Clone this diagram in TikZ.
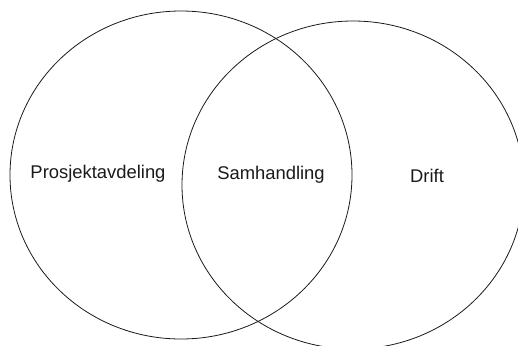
\documentclass[tikz,border=0pt]{standalone}
\usepackage{fontspec}
\setmainfont{Liberation Sans}
\usetikzlibrary{shapes.geometric}
\definecolor{ink}{HTML}{1A1A1A}
\tikzset{
  setring/.style={draw=ink,ellipse,line width=0.8pt,inner sep=0pt,
                  minimum width=342pt,minimum height=328pt},
  setlabel/.style={inner sep=0pt,font=\fontsize{18.4}{22}\selectfont,text=ink}
}
\begin{document}
\begin{tikzpicture}[x=1pt,y=-1pt]
  \useasboundingbox (0,0) rectangle (518,345);
  \clip (0,0) rectangle (518,345);
  \node[setring] (prosjekt) at (181,175) {};
  \node[setring] (drift) at (353,185) {};

  \node[setlabel] (lprosjekt) at (98,174) {Prosjektavdeling};
  \node[setlabel] (lsam) at (271,175) {Samhandling};
  \node[setlabel] (ldrift) at (427,176) {Drift};
\end{tikzpicture}
\end{document}
